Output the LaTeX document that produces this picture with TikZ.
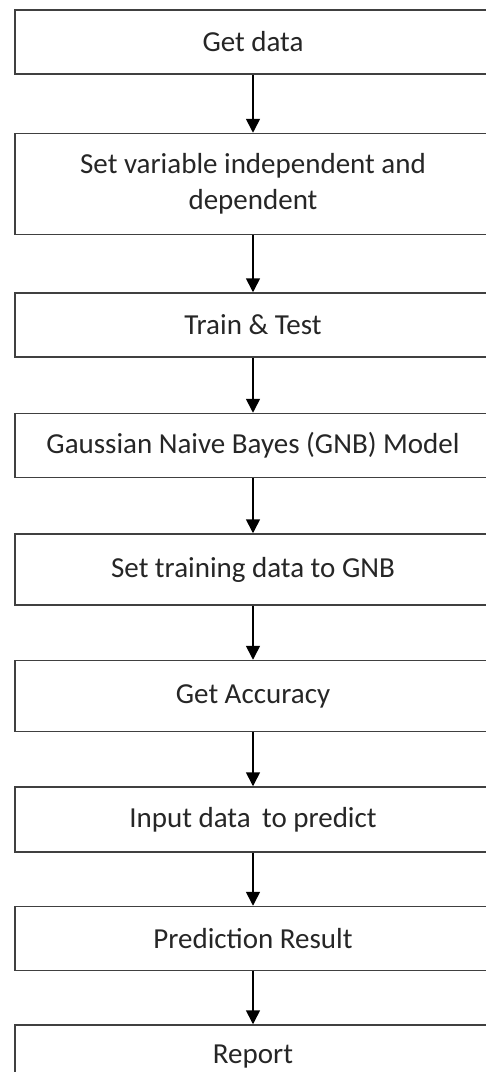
\documentclass[tikz,border=0pt]{standalone}
\usepackage{fontspec}
\setmainfont{Carlito}
\usetikzlibrary{positioning,arrows.meta}

\begin{document}
\begin{tikzpicture}[x=1pt, y=1pt,
    stepbox/.style={rectangle, draw=black!75, line width=1.5pt, fill=white,
        minimum width=476pt, minimum height=64pt, align=center,
        text=black!85, font=\fontsize{29}{36}\selectfont},
    flow/.style={-{Triangle[width=14pt,length=14pt]}, line width=1.6pt, draw=black}
    ]
        \useasboundingbox (0,0) rectangle (486,-1072);

        %Nodes
        \node[stepbox] (getdata) at (253,-42) {Get data};
        \node[stepbox, minimum height=101pt]
            (setvar)    [below=58pt of getdata]   {Set variable independent and\\dependent};
        \node[stepbox]
            (traintest) [below=57pt of setvar]    {Train \& Test};
        \node[stepbox]
            (gnbmodel)  [below=55pt of traintest] {Gaussian Naive Bayes (GNB) Model};
        \node[stepbox, minimum height=71pt]
            (settrain)  [below=55pt of gnbmodel]  {Set training data to GNB};
        \node[stepbox, minimum height=71pt]
            (accuracy)  [below=54pt of settrain]  {Get Accuracy};
        \node[stepbox, minimum height=65pt]
            (inputdata) [below=54pt of accuracy]  {Input data\, to predict};
        \node[stepbox]
            (predres)   [below=53pt of inputdata] {Prediction Result};
        \node[stepbox]
            (report)    [below=53pt of predres]   {Report};

        %Lines
        \draw[flow] (getdata.south) -- (setvar.north);
        \draw[flow] (setvar.south) -- (traintest.north);
        \draw[flow] (traintest.south) -- (gnbmodel.north);
        \draw[flow] (gnbmodel.south) -- (settrain.north);
        \draw[flow] (settrain.south) -- (accuracy.north);
        \draw[flow] (accuracy.south) -- (inputdata.north);
        \draw[flow] (inputdata.south) -- (predres.north);
        \draw[flow] (predres.south) -- (report.north);
    \end{tikzpicture}
\end{document}
